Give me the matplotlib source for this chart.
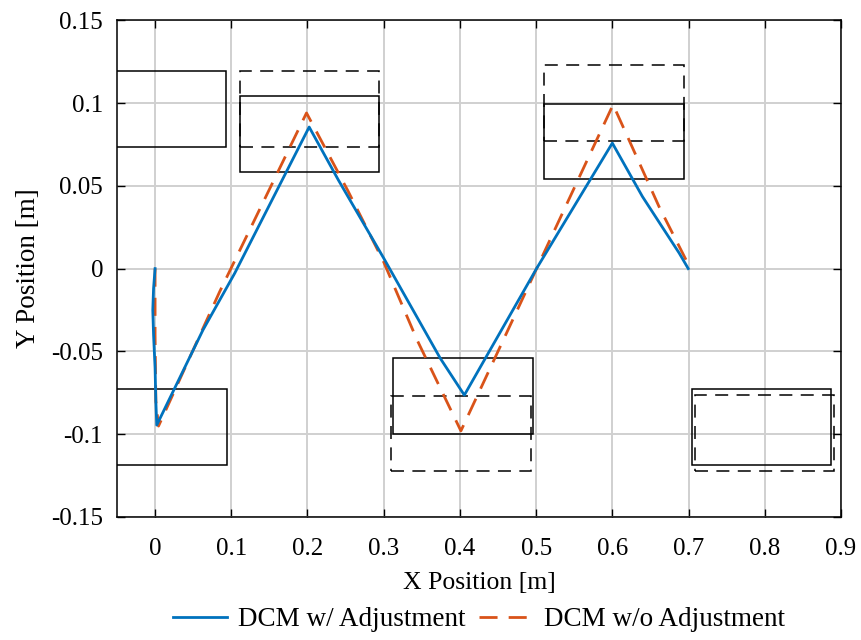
import matplotlib
matplotlib.use("Agg")
from matplotlib import pyplot as plt
from matplotlib.patches import Rectangle

plt.rcParams['font.family'] = ['Liberation Serif', 'DejaVu Serif']

# DCM trajectories
x_adj = [0.0, -0.002, -0.003, -0.002, 0.0, 0.001, 0.0022, 0.0628, 0.1045, 0.2022,
         0.2405, 0.3, 0.374, 0.4058, 0.5005, 0.6, 0.6395, 0.6878, 0.6996]
y_adj = [0.0, -0.012, -0.025, -0.04, -0.06, -0.08, -0.0945, -0.0371, -0.0028, 0.0855,
         0.0535, 0.0063, -0.054, -0.0764, 0.0, 0.0758, 0.0435, 0.0093, 0.0]

x_noadj = [0.0, 0.0, 0.001, 0.0045, 0.0847, 0.1987, 0.253, 0.3, 0.3437, 0.4013,
           0.5, 0.601, 0.6612, 0.697]
y_noadj = [0.0, -0.04, -0.08, -0.0951, -0.014, 0.094, 0.047, 0.004, -0.043, -0.098,
           -0.0006, 0.099, 0.0375, 0.005]

# footstep rectangles (centres), adjusted = solid, planned = dashed
foot_len = 0.183
foot_wid = 0.0457
adj_cx = [0.0019, 0.0028, 0.2025, 0.4042, 0.602, 0.7955]
adj_cy = [0.0963, -0.0958, 0.0812, -0.0771, 0.0768, -0.0955]
plan_cx = [0.2025, 0.4016, 0.602, 0.7996]
plan_cy = [0.0963, -0.0996, 0.0999, -0.0993]

fig = plt.figure(figsize=(8.62, 6.4), dpi=100, facecolor="white")
ax = fig.add_axes([0.1357, 0.1922, 0.9756 - 0.1357, 0.9684 - 0.1922])

for cx, cy in zip(adj_cx, adj_cy):
    ax.add_patch(Rectangle((cx - foot_len / 2, cy - foot_wid / 2), foot_len, foot_wid,
                           fill=False, edgecolor='black', lw=1.1, zorder=3))
for cx, cy in zip(plan_cx, plan_cy):
    ax.add_patch(Rectangle((cx - foot_len / 2, cy - foot_wid / 2), foot_len, foot_wid,
                           fill=False, edgecolor='black', lw=1.1, ls=(0, (8.5, 5.5)), zorder=3))

l1, = ax.plot(x_adj, y_adj, color='#0072BD', lw=2.0, zorder=5)
l2, = ax.plot(x_noadj, y_noadj, color='#D95319', lw=2.0, ls=(0, (6.5, 4)), zorder=4)

ax.set_xlim(-0.05, 0.9)
ax.set_ylim(-0.15, 0.15)
ax.set_xticks([0, 0.1, 0.2, 0.3, 0.4, 0.5, 0.6, 0.7, 0.8, 0.9])
ax.set_xticklabels(['0', '0.1', '0.2', '0.3', '0.4', '0.5', '0.6', '0.7', '0.8', '0.9'])
ax.set_yticks([-0.15, -0.1, -0.05, 0, 0.05, 0.1, 0.15])
ax.set_yticklabels(['-0.15', '-0.1', '-0.05', '0', '0.05', '0.1', '0.15'])
ax.grid(True, color='#d0d0d0', lw=1.4)
ax.set_axisbelow(True)
ax.tick_params(direction='in', top=True, right=True, labelsize=18, length=6, width=1)
ax.tick_params(axis='x', pad=15)
ax.tick_params(axis='y', pad=10)
for s in ax.spines.values():
    s.set_linewidth(1.1)

ax.set_xlabel('X Position [m]', fontsize=18.5, labelpad=9)
ax.set_ylabel('Y Position [m]', fontsize=19.5, labelpad=7)

ax.legend([l1, l2], ['DCM w/ Adjustment', 'DCM w/o Adjustment'], loc='center',
          bbox_to_anchor=(0.5, -0.207), ncol=2, frameon=False, fontsize=19.5,
          handlelength=2.0, columnspacing=0.5, handletextpad=0.4)

fig.savefig('out.png', dpi=100)
